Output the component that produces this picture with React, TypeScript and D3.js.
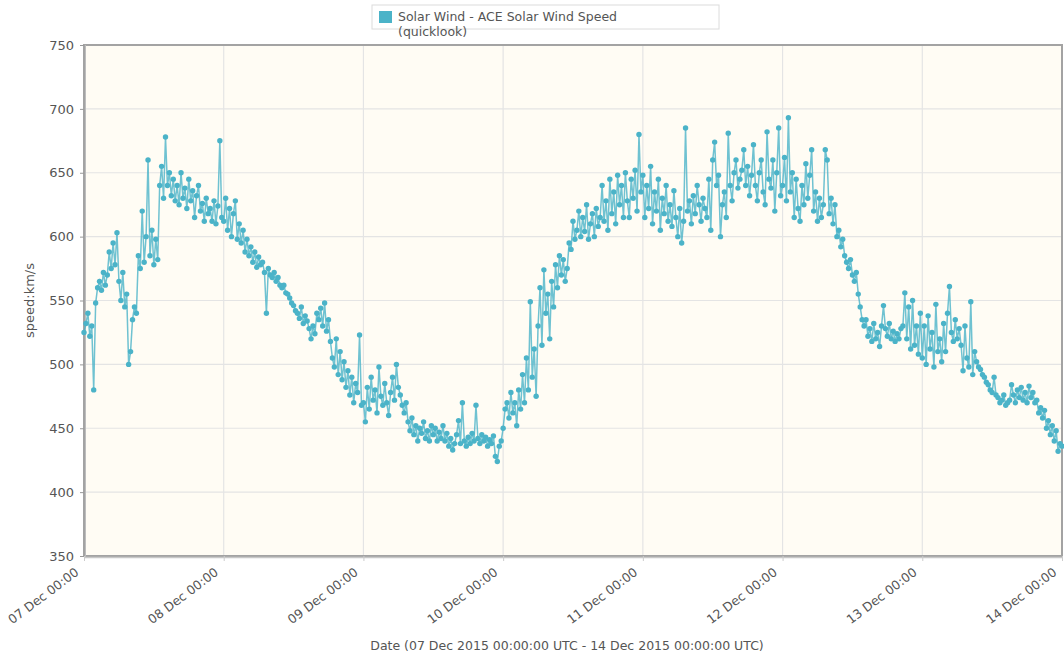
import { useEffect, useRef } from 'react';
import * as d3 from 'd3';

// 20-minute samples, km/s, one array per day
const dec07 = [525, 532, 540, 522, 530, 480, 548, 560, 565, 558, 572, 562,
  570, 588, 575, 595, 578, 603, 565, 550, 572, 545, 555, 500,
  510, 535, 545, 540, 585, 575, 620, 580, 600, 660, 585, 605,
  578, 598, 582, 640, 655, 630, 678, 640, 650, 632, 645, 628,
  640, 625, 650, 630, 638, 622, 645, 628, 636, 615, 632, 640,
  620, 626, 612, 630, 618, 622, 612, 628, 610, 624, 675, 615];
const dec08 = [612, 630, 605, 622, 600, 618, 628, 598, 610, 595, 605, 588,
  598, 585, 592, 580, 588, 576, 584, 578, 580, 572, 540, 575,
  570, 568, 572, 565, 568, 562, 560, 562, 556, 555, 552, 548,
  546, 542, 540, 536, 545, 532, 538, 534, 528, 520, 530, 524,
  540, 535, 544, 530, 548, 526, 535, 518, 505, 498, 520, 492,
  510, 488, 502, 482, 495, 476, 490, 470, 485, 478, 523, 468];
const dec09 = [470, 455, 482, 465, 490, 472, 480, 462, 498, 475, 468, 485,
  470, 460, 478, 490, 472, 500, 482, 476, 468, 462, 470, 455,
  448, 458, 445, 452, 440, 450, 446, 455, 442, 448, 440, 452,
  445, 450, 440, 447, 442, 452, 440, 446, 436, 442, 433, 438,
  445, 456, 438, 470, 440, 436, 443, 438, 446, 440, 468, 442,
  438, 445, 440, 443, 436, 441, 438, 444, 428, 424, 436, 440];
const dec10 = [450, 465, 470, 458, 478, 462, 470, 452, 480, 465, 492, 470,
  505, 480, 549, 490, 512, 475, 530, 560, 515, 574, 540, 555,
  520, 565, 545, 578, 560, 585, 570, 582, 565, 575, 595, 590,
  612, 598, 605, 620, 600, 615, 604, 625, 598, 610, 618, 600,
  622, 608, 615, 640, 612, 628, 605, 645, 618, 635, 610, 648,
  625, 640, 615, 650, 628, 615, 645, 630, 652, 620, 680, 635];
const dec11 = [648, 615, 640, 622, 655, 610, 635, 620, 645, 605, 630, 618,
  640, 612, 625, 608, 636, 615, 600, 622, 595, 612, 685, 620,
  628, 610, 632, 618, 640, 625, 612, 630, 622, 615, 645, 605,
  660, 674, 640, 648, 600, 625, 635, 615, 681, 640, 628, 650,
  660, 638, 645, 652, 668, 640, 655, 632, 648, 672, 640, 628,
  650, 660, 635, 625, 682, 645, 638, 660, 620, 650, 685, 632];
const dec12 = [640, 662, 628, 693, 635, 650, 615, 645, 622, 612, 640, 625,
  657, 630, 648, 668, 620, 635, 612, 630, 615, 625, 668, 660,
  618, 630, 610, 625, 600, 605, 592, 598, 585, 580, 575, 582,
  570, 565, 572, 555, 545, 535, 530, 535, 522, 528, 518, 532,
  520, 525, 514, 530, 546, 528, 522, 532, 520, 526, 518, 524,
  520, 528, 530, 556, 520, 545, 512, 550, 515, 530, 508, 540];
const dec13 = [505, 530, 500, 538, 512, 525, 498, 547, 510, 520, 502, 532,
  510, 540, 561, 525, 518, 535, 520, 528, 515, 495, 530, 505,
  498, 549, 492, 510, 502, 498, 496, 492, 490, 486, 484, 480,
  478, 490, 476, 474, 470, 472, 476, 468, 470, 472, 484, 476,
  470, 480, 474, 482, 472, 478, 470, 483, 474, 478, 470, 472,
  462, 466, 458, 464, 450, 456, 445, 452, 440, 448, 432, 438, 436];

const speeds = [...dec07, ...dec08, ...dec09, ...dec10, ...dec11, ...dec12, ...dec13];
const startTime = Date.UTC(2015, 11, 7, 0, 0);
const stepMs = 20 * 60 * 1000;
const yTicks = [350, 400, 450, 500, 550, 600, 650, 700, 750];
const dayTicks = [7, 8, 9, 10, 11, 12, 13, 14].map(d => new Date(Date.UTC(2015, 11, d)));
const seriesName = 'Solar Wind - ACE Solar Wind Speed';

export default function App() {
  const svgRef = useRef<SVGSVGElement>(null);

  useEffect(() => {
    document.body.style.margin = '0';
    const width = 1064;
    const height = 657;
    const margin = { top: 45, right: 2, bottom: 101, left: 84 };
    const innerW = width - margin.left - margin.right;
    const innerH = height - margin.top - margin.bottom;
    const color = '#4bb3c8';
    const font = 'DejaVu Sans, sans-serif';

    const svg = d3.select(svgRef.current);
    svg.selectAll('*').remove();
    svg.attr('width', width).attr('height', height).style('display', 'block');

    const data = speeds.map((v, i) => ({ t: new Date(startTime + i * stepMs), v }));

    const x = d3.scaleUtc()
      .domain([dayTicks[0], dayTicks[dayTicks.length - 1]])
      .range([0, innerW]);
    const y = d3.scaleLinear().domain([350, 750]).range([innerH, 0]);

    const g = svg.append('g').attr('transform', `translate(${margin.left},${margin.top})`);

    g.append('rect')
      .attr('width', innerW).attr('height', innerH)
      .attr('fill', '#fffcf4');

    // grid
    g.append('g').selectAll('line').data(yTicks).enter().append('line')
      .attr('x1', 0).attr('x2', innerW)
      .attr('y1', d => y(d)).attr('y2', d => y(d))
      .attr('stroke', '#e4e4e4').attr('stroke-width', 1.2);
    g.append('g').selectAll('line').data(dayTicks).enter().append('line')
      .attr('x1', d => x(d)).attr('x2', d => x(d))
      .attr('y1', 0).attr('y2', innerH)
      .attr('stroke', '#e4e4e4').attr('stroke-width', 1.2);

    // frame
    g.append('rect')
      .attr('width', innerW).attr('height', innerH)
      .attr('fill', 'none').attr('stroke', '#a3a3a3').attr('stroke-width', 2);
    g.append('line').attr('x1', 1.5).attr('x2', 1.5).attr('y1', 0).attr('y2', innerH + 2)
      .attr('stroke', '#bdbdbd').attr('stroke-width', 1);
    g.append('line').attr('x1', 0).attr('x2', innerW).attr('y1', innerH + 1.5).attr('y2', innerH + 1.5)
      .attr('stroke', '#c8c8c8').attr('stroke-width', 1.5);

    // y axis
    const yAxis = g.append('g')
      .call(d3.axisLeft(y).tickValues(yTicks).tickSize(4).tickPadding(6));
    yAxis.select('.domain').remove();
    yAxis.selectAll('line').attr('stroke', '#999');
    yAxis.selectAll('text')
      .attr('fill', '#555').style('font-family', font).style('font-size', '13px');

    // x axis
    const xAxis = g.append('g')
      .attr('transform', `translate(0,${innerH})`)
      .call(d3.axisBottom(x).tickValues(dayTicks).tickSize(5)
        .tickFormat(d => d3.utcFormat('%d %b %H:%M')(d as Date)));
    xAxis.select('.domain').remove();
    xAxis.selectAll('line').attr('stroke', '#ccc');
    xAxis.selectAll('text')
      .attr('fill', '#555')
      .style('font-family', font).style('font-size', '12.5px')
      .style('text-anchor', 'end')
      .attr('x', 0).attr('y', 0).attr('dy', 0)
      .attr('transform', 'translate(-5,18) rotate(-37)');

    // series
    const line = d3.line<{ t: Date; v: number }>().x(d => x(d.t)).y(d => y(d.v));
    g.append('path').datum(data)
      .attr('d', line)
      .attr('fill', 'none')
      .attr('stroke', color)
      .attr('stroke-opacity', 0.8)
      .attr('stroke-width', 1.5);
    g.append('g').selectAll('circle').data(data).enter().append('circle')
      .attr('cx', d => x(d.t)).attr('cy', d => y(d.v))
      .attr('r', 2.7)
      .attr('fill', color);

    // axis titles
    svg.append('text')
      .attr('transform', `translate(34,${margin.top + innerH / 2}) rotate(-90)`)
      .attr('text-anchor', 'middle')
      .attr('fill', '#555')
      .style('font-family', font).style('font-size', '13px')
      .text('speed:km/s');
    svg.append('text')
      .attr('x', 567).attr('y', 650)
      .attr('text-anchor', 'middle')
      .attr('fill', '#555')
      .style('font-family', font).style('font-size', '12.5px')
      .text('Date (07 Dec 2015 00:00:00 UTC - 14 Dec 2015 00:00:00 UTC)');

    // legend
    const legend = svg.append('g').attr('transform', 'translate(372,5)');
    legend.append('rect')
      .attr('width', 347).attr('height', 24)
      .attr('fill', '#fff').attr('stroke', '#dcdcdc');
    legend.append('rect')
      .attr('x', 7).attr('y', 6).attr('width', 13).attr('height', 12)
      .attr('fill', color);
    const lt = legend.append('text')
      .attr('fill', '#555')
      .style('font-family', font).style('font-size', '12.5px');
    lt.append('tspan').attr('x', 26).attr('y', 16).text(seriesName);
    lt.append('tspan').attr('x', 26).attr('y', 31).text('(quicklook)');
  }, []);

  return <svg ref={svgRef}></svg>;
}
